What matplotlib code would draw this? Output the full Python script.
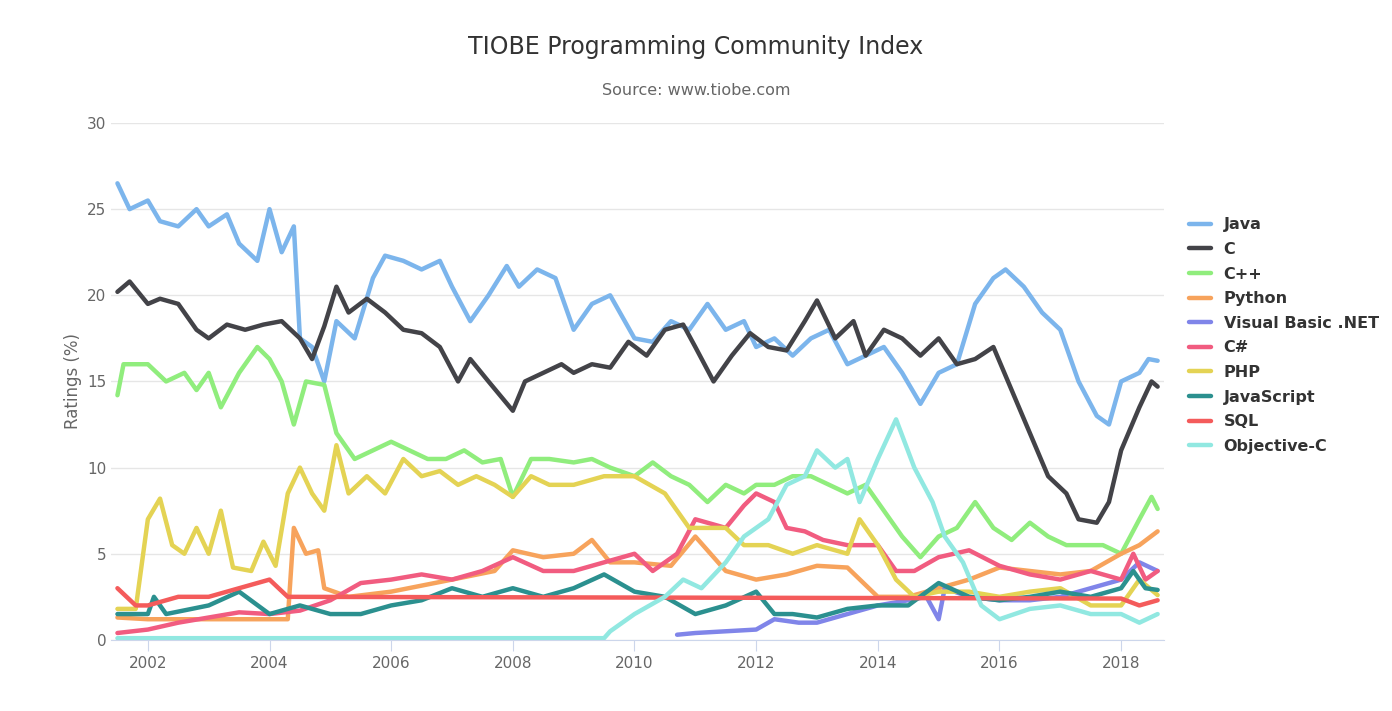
import numpy as np
import matplotlib.pyplot as plt

################################################# Data
java_t = [2001.5,2001.7,2002,2002.2,2002.5,2002.8,2003,2003.3,2003.5,2003.8,2004,2004.2,2004.4,2004.5,2004.7,2004.9,2005.1,2005.4,2005.7,2005.9,2006.2,2006.5,2006.8,2007,2007.3,2007.6,2007.9,2008.1,2008.4,2008.7,2009,2009.3,2009.6,2010,2010.3,2010.6,2010.9,2011.2,2011.5,2011.8,2012,2012.3,2012.6,2012.9,2013.2,2013.5,2013.8,2014.1,2014.4,2014.7,2015,2015.3,2015.6,2015.9,2016.1,2016.4,2016.7,2017,2017.3,2017.6,2017.8,2018,2018.3,2018.45,2018.6]
java_v = [26.5,25,25.5,24.3,24,25,24,24.7,23,22,25,22.5,24,17.5,17,15,18.5,17.5,21,22.3,22,21.5,22,20.5,18.5,20,21.7,20.5,21.5,21,18,19.5,20,17.5,17.3,18.5,18,19.5,18,18.5,17,17.5,16.5,17.5,18,16,16.5,17,15.5,13.7,15.5,16,19.5,21,21.5,20.5,19,18,15,13,12.5,15,15.5,16.3,16.2]

c_t = [2001.5,2001.7,2002,2002.2,2002.5,2002.8,2003,2003.3,2003.6,2003.9,2004.2,2004.5,2004.7,2004.9,2005.1,2005.3,2005.6,2005.9,2006.2,2006.5,2006.8,2007.1,2007.3,2007.6,2008,2008.2,2008.5,2008.8,2009,2009.3,2009.6,2009.9,2010.2,2010.5,2010.8,2011,2011.3,2011.6,2011.9,2012.2,2012.5,2012.8,2013,2013.3,2013.6,2013.8,2014.1,2014.4,2014.7,2015,2015.3,2015.6,2015.9,2016.2,2016.5,2016.8,2017.1,2017.3,2017.6,2017.8,2018,2018.3,2018.5,2018.6]
c_v = [20.2,20.8,19.5,19.8,19.5,18,17.5,18.3,18,18.3,18.5,17.5,16.3,18.2,20.5,19,19.8,19,18,17.8,17,15,16.3,15,13.3,15,15.5,16,15.5,16,15.8,17.3,16.5,18,18.3,17,15,16.5,17.8,17,16.8,18.5,19.7,17.5,18.5,16.5,18,17.5,16.5,17.5,16,16.3,17,14.5,12,9.5,8.5,7,6.8,8,11,13.5,15,14.7]

cpp_t = [2001.5,2001.6,2002,2002.3,2002.6,2002.8,2003,2003.2,2003.5,2003.8,2004,2004.2,2004.4,2004.6,2004.9,2005.1,2005.4,2005.7,2006,2006.3,2006.6,2006.9,2007.2,2007.5,2007.8,2008,2008.3,2008.6,2009,2009.3,2009.6,2010,2010.3,2010.6,2010.9,2011.2,2011.5,2011.8,2012,2012.3,2012.6,2012.9,2013.2,2013.5,2013.8,2014.1,2014.4,2014.7,2015,2015.3,2015.6,2015.9,2016.2,2016.5,2016.8,2017.1,2017.4,2017.7,2018,2018.3,2018.5,2018.6]
cpp_v = [14.2,16,16,15,15.5,14.5,15.5,13.5,15.5,17,16.3,15,12.5,15,14.8,12,10.5,11,11.5,11,10.5,10.5,11,10.3,10.5,8.3,10.5,10.5,10.3,10.5,10,9.5,10.3,9.5,9,8,9,8.5,9,9,9.5,9.5,9,8.5,9,7.5,6,4.8,6,6.5,8,6.5,5.8,6.8,6,5.5,5.5,5.5,5,7,8.3,7.6]

py_t = [2001.5,2002,2003,2004,2004.3,2004.4,2004.6,2004.8,2004.9,2005.3,2006,2007,2007.7,2008,2008.5,2009,2009.3,2009.6,2010,2010.6,2011,2011.5,2012,2012.5,2013,2013.5,2014,2014.5,2015,2015.5,2016,2016.5,2017,2017.5,2018,2018.3,2018.6]
py_v = [1.3,1.2,1.2,1.2,1.2,6.5,5,5.2,3,2.5,2.8,3.5,4,5.2,4.8,5,5.8,4.5,4.5,4.3,6,4,3.5,3.8,4.3,4.2,2.5,2.5,3,3.5,4.2,4,3.8,4,5,5.5,6.3]

vb_t = [2010.7,2011,2011.5,2012,2012.3,2012.7,2013,2013.5,2014,2014.5,2014.8,2015,2015.1,2015.5,2016,2016.5,2017,2017.5,2018,2018.3,2018.6]
vb_v = [0.3,0.4,0.5,0.6,1.2,1.0,1.0,1.5,2.0,2.3,2.5,1.2,3.0,2.5,2.3,2.3,2.5,3,3.5,4.5,4.0]

cs_t = [2001.5,2002,2002.5,2003,2003.5,2004,2004.5,2005,2005.5,2006,2006.5,2007,2007.5,2008,2008.5,2009,2009.5,2010,2010.3,2010.7,2011,2011.5,2011.8,2012,2012.3,2012.5,2012.8,2013.1,2013.5,2014,2014.3,2014.6,2015,2015.5,2016,2016.5,2017,2017.5,2018,2018.2,2018.4,2018.6]
cs_v = [0.4,0.6,1.0,1.3,1.6,1.5,1.7,2.3,3.3,3.5,3.8,3.5,4,4.8,4,4,4.5,5,4,5,7,6.5,7.8,8.5,8,6.5,6.3,5.8,5.5,5.5,4,4,4.8,5.2,4.3,3.8,3.5,4,3.5,5,3.5,4]

php_t = [2001.5,2001.8,2002,2002.2,2002.4,2002.6,2002.8,2003,2003.2,2003.4,2003.7,2003.9,2004.1,2004.3,2004.5,2004.7,2004.9,2005.1,2005.3,2005.6,2005.9,2006.2,2006.5,2006.8,2007.1,2007.4,2007.7,2008,2008.3,2008.6,2009,2009.5,2010,2010.5,2010.9,2011.2,2011.5,2011.8,2012.2,2012.6,2013,2013.5,2013.7,2014,2014.3,2014.6,2015,2015.5,2016,2016.5,2017,2017.5,2018,2018.3,2018.6]
php_v = [1.8,1.8,7,8.2,5.5,5,6.5,5,7.5,4.2,4,5.7,4.3,8.5,10,8.5,7.5,11.3,8.5,9.5,8.5,10.5,9.5,9.8,9,9.5,9,8.3,9.5,9,9,9.5,9.5,8.5,6.5,6.5,6.5,5.5,5.5,5,5.5,5,7,5.5,3.5,2.5,2.8,2.8,2.5,2.8,3,2,2,3.5,2.6]

js_t = [2001.5,2002,2002.1,2002.3,2003,2003.5,2004,2004.5,2005,2005.5,2006,2006.5,2007,2007.5,2008,2008.5,2009,2009.5,2010,2010.5,2011,2011.5,2012,2012.3,2012.6,2013,2013.5,2014,2014.5,2015,2015.5,2016,2016.5,2017,2017.5,2018,2018.2,2018.4,2018.6]
js_v = [1.5,1.5,2.5,1.5,2,2.8,1.5,2,1.5,1.5,2,2.3,3,2.5,3,2.5,3,3.8,2.8,2.5,1.5,2,2.8,1.5,1.5,1.3,1.8,2,2,3.3,2.5,2.3,2.5,2.8,2.5,3,4,3,2.9]

sql_t = [2001.5,2001.8,2002,2002.5,2003,2003.5,2004,2004.3,2018,2018.3,2018.6]
sql_v = [3,2,2,2.5,2.5,3,3.5,2.5,2.4,2,2.3]

objc_t = [2001.5,2009.5,2009.6,2010,2010.5,2010.8,2011.1,2011.5,2011.8,2012.2,2012.5,2012.8,2013,2013.3,2013.5,2013.7,2014,2014.3,2014.6,2014.9,2015.1,2015.4,2015.7,2016,2016.5,2017,2017.5,2018,2018.3,2018.6]
objc_v = [0.1,0.1,0.5,1.5,2.5,3.5,3,4.5,6,7,9,9.5,11,10,10.5,8,10.5,12.8,10,8,6,4.5,2,1.2,1.8,2,1.5,1.5,1,1.5]

series = [
    ("Java", java_t, java_v, "#7cb5ec"),
    ("C", c_t, c_v, "#434348"),
    ("C++", cpp_t, cpp_v, "#90ed7d"),
    ("Python", py_t, py_v, "#f7a35c"),
    ("Visual Basic .NET", vb_t, vb_v, "#8085e9"),
    ("C#", cs_t, cs_v, "#f15c80"),
    ("PHP", php_t, php_v, "#e4d354"),
    ("JavaScript", js_t, js_v, "#2b908f"),
    ("SQL", sql_t, sql_v, "#f45b5b"),
    ("Objective-C", objc_t, objc_v, "#91e8e1"),
]

################################################# Plot
fig = plt.figure(figsize=(13.92, 7.11), dpi=100)
ax = fig.add_axes([0.080, 0.100, 0.756, 0.727])

for name, t, v, col in series:
    ax.plot(t, v, color=col, lw=3.2, label=name, solid_capstyle="round", solid_joinstyle="round")

ax.set_xlim(2001.4, 2018.7)
ax.set_ylim(0, 30)
ax.set_yticks(range(0, 31, 5))
ax.set_xticks(range(2002, 2019, 2))
ax.grid(axis="y", color="#e6e6e6", lw=1)
ax.set_axisbelow(True)
for s in ["top", "right", "left"]:
    ax.spines[s].set_visible(False)
ax.spines["bottom"].set_color("#ccd6eb")
ax.tick_params(axis="y", length=0, colors="#666666", labelsize=11)
ax.tick_params(axis="x", color="#ccd6eb", colors="#666666", labelsize=11, length=8)
ax.set_ylabel("Ratings (%)", color="#666666", fontsize=12)

fig.text(0.5, 0.934, "TIOBE Programming Community Index", ha="center", va="center", fontsize=17, color="#333333")
fig.text(0.5, 0.873, "Source: www.tiobe.com", ha="center", va="center", fontsize=11.5, color="#666666")

leg = ax.legend(loc="upper left", bbox_to_anchor=(1.01, 0.845), frameon=False,
                handlelength=1.4, labelspacing=0.6, prop={"weight": "bold", "size": 11.5})
for txt in leg.get_texts():
    txt.set_color("#333333")

fig.savefig("out.png", dpi=100)
